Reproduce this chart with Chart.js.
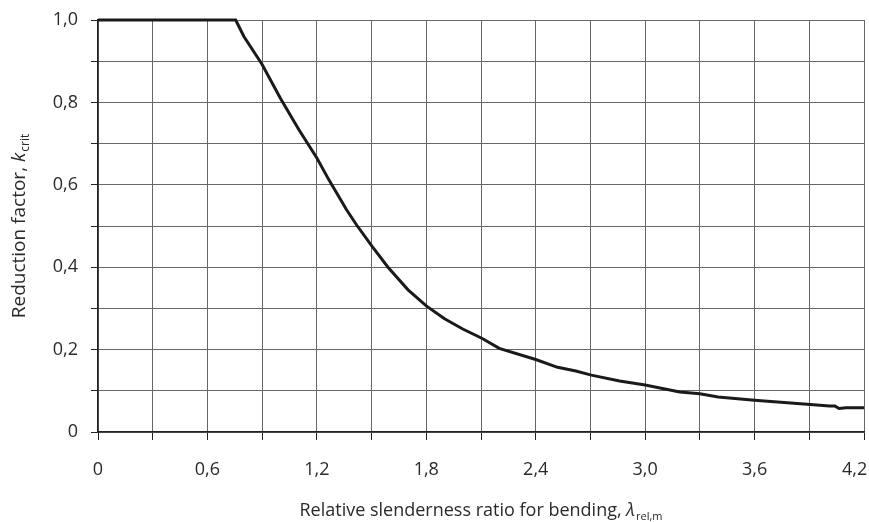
<!DOCTYPE html>
<html>
<head>
<meta charset="utf-8">
<script src="https://cdn.jsdelivr.net/npm/chart.js@4/dist/chart.umd.min.js"></script>
<style>
  body { margin: 0; background: #fff; }
  canvas { display: block; }
</style>
</head>
<body>
<canvas id="chart" width="869" height="522"></canvas>
<script>
// curve: relative slenderness vs. reduction factor
const lambdaRel = [0, 0.755, 0.80, 0.85, 0.90, 1.0, 1.1, 1.2, 1.266, 1.362, 1.417, 1.504, 1.59, 1.7, 1.8, 1.9, 2.0, 2.107, 2.2, 2.4, 2.52, 2.62, 2.705, 2.86, 3.0, 3.19, 3.3, 3.4, 3.6, 3.906, 4.01, 4.04, 4.063, 4.1, 4.2];
const kCrit = [1.0, 1.0, 0.96, 0.926, 0.892, 0.81, 0.735, 0.665, 0.612, 0.54, 0.503, 0.45, 0.40, 0.345, 0.306, 0.275, 0.25, 0.227, 0.203, 0.176, 0.157, 0.148, 0.138, 0.124, 0.114, 0.097, 0.093, 0.085, 0.077, 0.067, 0.063, 0.063, 0.057, 0.059, 0.059];

const xTicks = [0, 0.3, 0.6, 0.9, 1.2, 1.5, 1.8, 2.1, 2.4, 2.7, 3.0, 3.3, 3.6, 3.9, 4.2];
const xTickLabels = ["0", "", "0,6", "", "1,2", "", "1,8", "", "2,4", "", "3,0", "", "3,6", "", "4,2"];
const yTicks = [0, 0.1, 0.2, 0.3, 0.4, 0.5, 0.6, 0.7, 0.8, 0.9, 1.0];
const yTickLabels = ["0", "", "0,2", "", "0,4", "", "0,6", "", "0,8", "", "1,0"];

const FONT = "'Open Sans', 'Noto Sans', sans-serif";
const TEXT = "#2a2a2a";

// draws "text" + italic symbol + subscript, centred on x=0
function drawSymbolTitle(ctx, text, symbol, sub, size) {
  ctx.font = size + "px " + FONT;
  const w1 = ctx.measureText(text).width;
  ctx.font = "italic " + size + "px " + FONT;
  const w2 = ctx.measureText(symbol).width;
  const subSize = Math.round(size * 0.62);
  ctx.font = subSize + "px " + FONT;
  const w3 = ctx.measureText(sub).width;
  let x = -(w1 + w2 + w3 + 1) / 2;
  ctx.font = size + "px " + FONT;
  ctx.fillText(text, x, 0);
  x += w1;
  ctx.font = "italic " + size + "px " + FONT;
  ctx.fillText(symbol, x, 0);
  x += w2;
  ctx.font = subSize + "px " + FONT;
  ctx.fillText(sub, x + 1, 4);
}

const axisTitles = {
  id: "axisTitles",
  afterDraw(chart) {
    const { ctx, chartArea } = chart;
    ctx.save();
    ctx.fillStyle = TEXT;
    ctx.textBaseline = "alphabetic";
    ctx.textAlign = "left";

    ctx.save();
    ctx.translate((chartArea.left + chartArea.right) / 2, 516);
    drawSymbolTitle(ctx, "Relative slenderness ratio for bending, ", "λ", "rel,m", 18);
    ctx.restore();

    ctx.translate(25, (chartArea.top + chartArea.bottom) / 2);
    ctx.rotate(-Math.PI / 2);
    drawSymbolTitle(ctx, "Reduction factor, ", "k", "crit", 19);
    ctx.restore();
  }
};

new Chart(document.getElementById("chart"), {
  type: "scatter",
  data: {
    datasets: [{
      data: lambdaRel.map((v, i) => ({ x: v, y: kCrit[i] })),
      showLine: true,
      borderColor: "#1a1a1a",
      borderWidth: 3,
      pointRadius: 0,
      tension: 0,
      clip: false
    }]
  },
  options: {
    responsive: false,
    animation: false,
    layout: { padding: { top: 20, right: 5, left: 0, bottom: 0 } },
    plugins: { legend: { display: false }, tooltip: { enabled: false } },
    scales: {
      x: {
        type: "linear",
        min: 0,
        max: 4.2,
        afterBuildTicks: (scale) => { scale.ticks = xTicks.map(v => ({ value: v })); },
        afterFit: (scale) => { scale.height = 90; scale.paddingLeft = 0; scale.paddingRight = 0; },
        ticks: {
          autoSkip: false,
          maxRotation: 0,
          padding: 19,
          color: TEXT,
          font: { family: FONT, size: 18 },
          // last label sits a little left of its tick, as in the source figure
          callback: (value, index) => index === xTickLabels.length - 1 ? xTickLabels[index] + "    " : xTickLabels[index]
        },
        grid: { color: "#666", lineWidth: 1, tickLength: 8, tickColor: "#222" },
        border: { color: "#222", width: 1.5 }
      },
      y: {
        min: 0,
        max: 1,
        afterBuildTicks: (scale) => { scale.ticks = yTicks.map(v => ({ value: v })); },
        afterFit: (scale) => { scale.width = 98; scale.paddingTop = 0; scale.paddingBottom = 0; },
        ticks: {
          autoSkip: false,
          padding: 13,
          color: TEXT,
          font: { family: FONT, size: 18 },
          callback: (value, index) => yTickLabels[index]
        },
        grid: { color: "#666", lineWidth: 1, tickLength: 7, tickColor: "#222" },
        border: { color: "#222", width: 1.5 }
      }
    }
  },
  plugins: [axisTitles]
});
</script>
</body>
</html>
